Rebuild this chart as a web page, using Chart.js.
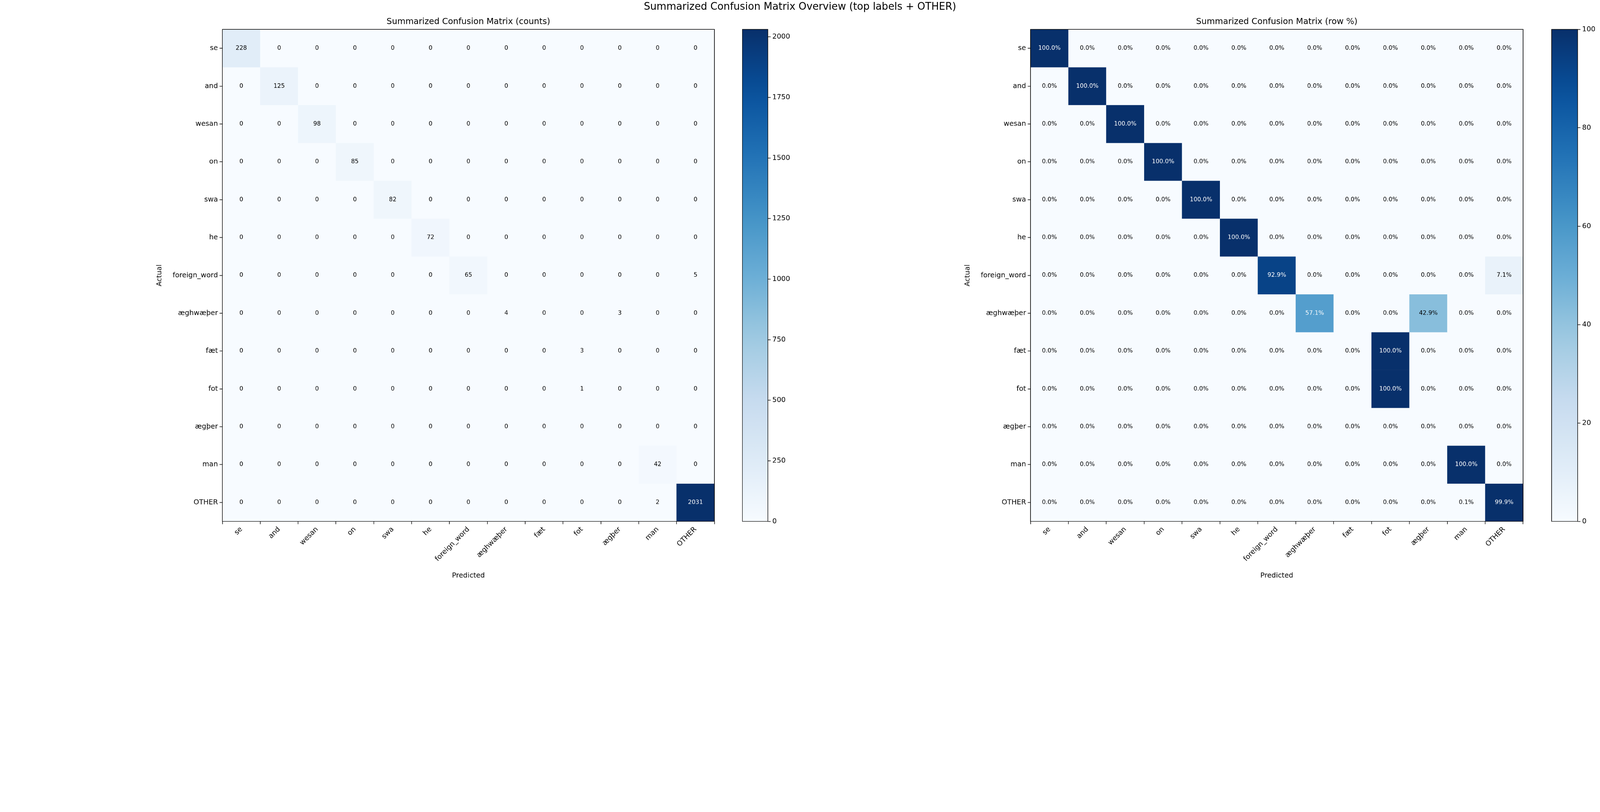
<!DOCTYPE html>
<html><head><meta charset="utf-8">
<script src="https://cdn.jsdelivr.net/npm/chart.js@4"></script>
<style>
html,body{margin:0;background:#fff;overflow:hidden;}
#wrap{position:absolute;left:0;top:0;width:5720px;height:2080px;transform-origin:0 0;font-family:"DejaVu Sans";}
canvas{position:absolute;top:0;}
#sup{position:absolute;top:2px;left:0;width:5720px;text-align:center;font-size:36px;color:#000;}
</style></head><body>
<div id="wrap">
<div id="sup">Summarized Confusion Matrix Overview (top labels + OTHER)</div>
<canvas id="m1" style="left:0px" width="2600" height="2080"></canvas>
<canvas id="c1" style="left:2640px" width="200" height="2080"></canvas>
<canvas id="m2" style="left:2860px" width="2640" height="2080"></canvas>
<canvas id="c2" style="left:5533px" width="187" height="2080"></canvas>
</div>
<script>
const labels = ["se","and","wesan","on","swa","he","foreign_word","æghwæþer","fæt","fot","ægþer","man","OTHER"];
const counts = [
[228,0,0,0,0,0,0,0,0,0,0,0,0],
[0,125,0,0,0,0,0,0,0,0,0,0,0],
[0,0,98,0,0,0,0,0,0,0,0,0,0],
[0,0,0,85,0,0,0,0,0,0,0,0,0],
[0,0,0,0,82,0,0,0,0,0,0,0,0],
[0,0,0,0,0,72,0,0,0,0,0,0,0],
[0,0,0,0,0,0,65,0,0,0,0,0,5],
[0,0,0,0,0,0,0,4,0,0,3,0,0],
[0,0,0,0,0,0,0,0,0,3,0,0,0],
[0,0,0,0,0,0,0,0,0,1,0,0,0],
[0,0,0,0,0,0,0,0,0,0,0,0,0],
[0,0,0,0,0,0,0,0,0,0,0,42,0],
[0,0,0,0,0,0,0,0,0,0,0,2,2031]];
const countTicks = [0,250,500,750,1000,1250,1500,1750,2000];
const pctTicks = [0,20,40,60,80,100];
const pct = counts.map(r=>{const s=r.reduce((a,b)=>a+b,0);return r.map(v=>s?v/s*100:0);});
const countMax = Math.max(...counts.flat());

const sc=Math.min(window.innerWidth/5720, window.innerHeight/2080);
document.getElementById('wrap').style.transform=`scale(${sc})`;

const stops=["#f7fbff","#deebf7","#c6dbef","#9ecae1","#6baed6","#4292c6","#2171b5","#08519c","#08306b"].map(h=>[parseInt(h.slice(1,3),16),parseInt(h.slice(3,5),16),parseInt(h.slice(5,7),16)]);
function blues(t){t=Math.max(0,Math.min(1,t));const p=t*8,i=Math.min(7,Math.floor(p)),f=p-i;const a=stops[i],b=stops[i+1];
return `rgb(${a.map((v,k)=>Math.round(v+(b[k]-v)*f)).join(',')})`;}
const F="DejaVu Sans";
Chart.defaults.font.family=F;Chart.defaults.color="#000";

function matrix(id,vals,vmax,fmt,title,padL,padR){
  const datasets=vals.map((row,r)=>({data:row.map(()=>[r,r+1]),backgroundColor:row.map(v=>blues(v/vmax)),
    barPercentage:1,categoryPercentage:1,borderWidth:0,grouped:false}));
  new Chart(document.getElementById(id),{type:'bar',data:{labels,datasets},
   options:{responsive:false,animation:false,events:[],devicePixelRatio:1,
    layout:{padding:{left:padL,right:padR,top:105,bottom:0}},
    plugins:{legend:{display:false},tooltip:{enabled:false}},
    scales:{
     x:{grid:{display:true,drawOnChartArea:false,tickLength:10,color:'#000',tickWidth:2},border:{display:true,color:'#000',width:2},
        ticks:{font:{size:25},maxRotation:45,minRotation:45,padding:4},
        title:{display:true,text:'Predicted',font:{size:25},padding:{top:0,bottom:6}},
        afterFit:s=>{s.height=215;}},
     y:{type:'linear',reverse:true,min:0,max:13,grid:{display:true,drawOnChartArea:false,tickLength:10,color:'#000',tickWidth:2},
        border:{display:true,color:'#000',width:2},
        afterBuildTicks:s=>{s.ticks=labels.map((l,i)=>({value:i+0.5}));},
        ticks:{font:{size:25},padding:6,callback:(v)=>labels[Math.floor(v)]},
        title:{display:true,text:'Actual',font:{size:25},padding:0},
        afterFit:s=>{s.width=240;}}}},
   plugins:[{id:'txt',afterDatasetsDraw(c){const ctx=c.ctx,x=c.scales.x,y=c.scales.y,a=c.chartArea;
     ctx.save();ctx.textAlign='center';ctx.textBaseline='middle';ctx.font=`21px ${F}`;
     vals.forEach((row,r)=>row.forEach((v,k)=>{ctx.fillStyle=v>vmax/2?'#fff':'#000';
       ctx.fillText(fmt(v),x.getPixelForValue(k),y.getPixelForValue(r+0.5));}));
     ctx.strokeStyle='#000';ctx.lineWidth=2;ctx.strokeRect(a.left,a.top,a.right-a.left,a.bottom-a.top);
     ctx.fillStyle='#000';ctx.font=`30px ${F}`;ctx.textBaseline='bottom';ctx.fillText(title,(a.left+a.right)/2,a.top-12);
     ctx.restore();}}]});
}
function cbar(id,vmax,ticks,padL,tw){
  new Chart(document.getElementById(id),{type:'bar',data:{labels:['c'],datasets:[{data:[[0,vmax]],borderWidth:0,barPercentage:1,categoryPercentage:1,
    backgroundColor:(ctx)=>{const a=ctx.chart.chartArea;if(!a)return '#fff';const g=ctx.chart.ctx.createLinearGradient(0,a.bottom,0,a.top);
      for(let i=0;i<=20;i++)g.addColorStop(i/20,blues(i/20));return g;}}]},
   options:{responsive:false,animation:false,events:[],devicePixelRatio:1,layout:{padding:{left:padL,right:0,top:105,bottom:0}},
    plugins:{legend:{display:false},tooltip:{enabled:false}},
    scales:{x:{display:false,afterFit:s=>{s.height=215;}},
     y:{position:'right',min:0,max:vmax,grid:{display:true,drawOnChartArea:false,tickLength:10,color:'#000',tickWidth:2},
       border:{display:true,color:'#000',width:2},afterBuildTicks:s=>{s.ticks=ticks.map(v=>({value:v}));},
       ticks:{font:{size:25},padding:6,callback:v=>String(v)},afterFit:s=>{s.width=tw;}}}},
   plugins:[{id:'bx',afterDatasetsDraw(c){const a=c.chartArea,ctx=c.ctx;ctx.save();ctx.strokeStyle='#000';ctx.lineWidth=2;
     ctx.strokeRect(a.left,a.top,a.right-a.left,a.bottom-a.top);ctx.restore();}}]});
}
matrix('m1',counts,countMax,v=>String(v),'Summarized Confusion Matrix (counts)',555,46);
matrix('m2',pct,100,v=>v.toFixed(1)+'%','Summarized Confusion Matrix (row %)',584,55);
cbar('c1',countMax,countTicks,14,95);
cbar('c2',100,pctTicks,14,80);
</script></body></html>
